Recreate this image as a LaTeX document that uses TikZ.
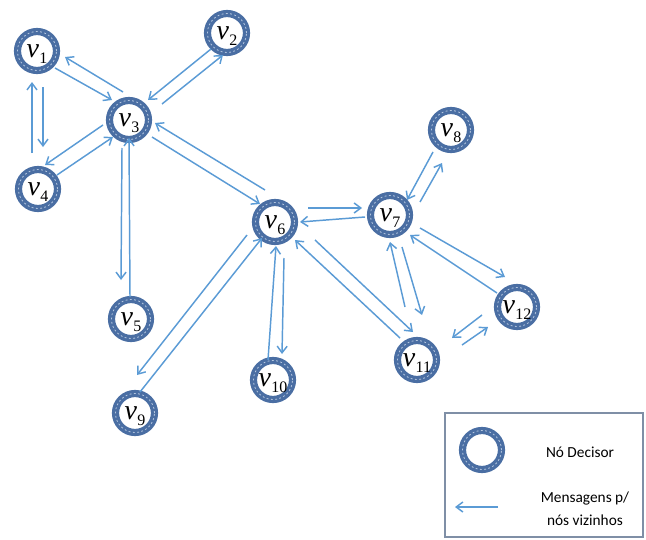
\documentclass[tikz,border=0pt]{standalone}
\usepackage{fontspec}
\setmainfont{Liberation Serif}
\newfontfamily\legendfont{Carlito}
\usetikzlibrary{arrows.meta,calc}

\definecolor{ringblue}{HTML}{4A6EA3}
\definecolor{ringlight}{HTML}{B4C6DF}
\definecolor{msgblue}{HTML}{5B9BD5}
\definecolor{boxline}{HTML}{7F8FA6}

% italic v with a lowered index (the index does not enlarge the label box)
\newcommand\vlab[1]{{\itshape v}\kern0.2pt\raisebox{-5pt}[0pt][0pt]{\fontsize{12}{12}\selectfont #1}}
% one message arrow between two nodes, each end given relative to its node
\newcommand\msg[4]{\draw[msgarrow] ($(#1)+#2$) -- ($(#3)+#4$);}

\begin{document}
\begin{tikzpicture}[x=0.75pt,y=-0.75pt,
  decisor/.style={circle, minimum size=29.25pt, inner sep=0pt,
    draw=ringblue, line width=5.4pt,
    font=\fontsize{21}{21}\selectfont,
    postaction={draw=ringlight, line width=0.6pt, dash pattern=on 1.4pt off 1.8pt}},
  msgarrow/.style={draw=msgblue, line width=1.1pt,
    -{Straight Barb[length=5pt,width=7.5pt,line width=1.1pt]}},
  legendtext/.style={font=\legendfont\fontsize{11.5}{17.5}\selectfont, align=center}]
\useasboundingbox (0,0) rectangle (646,539);

% decision nodes
\node[decisor] (v1)  at (37,51)   {\vlab{1}};
\node[decisor] (v2)  at (227,33)  {\vlab{2}};
\node[decisor] (v3)  at (129,120) {\vlab{3}};
\node[decisor] (v4)  at (38,189)  {\vlab{4}};
\node[decisor] (v5)  at (131,319) {\vlab{5}};
\node[decisor] (v6)  at (275,222) {\vlab{6}};
\node[decisor] (v7)  at (390,215) {\vlab{7}};
\node[decisor] (v8)  at (451,130) {\vlab{8}};
\node[decisor] (v9)  at (135,413) {\vlab{9}};
\node[decisor] (v10) at (273,380) {\vlab{10}};
\node[decisor] (v11) at (417,360) {\vlab{11}};
\node[decisor] (v12) at (517,307) {\vlab{12}};

% messages exchanged between neighbours
\msg{v3}{(-6,-28)}{v1}{(28,6)}
\msg{v1}{(18,17)}{v3}{(-17,-20)}
\msg{v2}{(-16,16)}{v3}{(19,-20)}
\msg{v3}{(33,-16)}{v2}{(-4,22)}
\msg{v4}{(-6,-36)}{v1}{(-5,31)}
\msg{v1}{(6,36)}{v4}{(5,-42)}
\msg{v3}{(-26,5)}{v4}{(7,-24)}
\msg{v4}{(19,-14)}{v3}{(-16,17)}
\msg{v3}{(-7,28)}{v5}{(-10,-39)}
\msg{v5}{(-1,-22)}{v3}{(0,18)}
\msg{v6}{(-10,-32)}{v3}{(26,3)}
\msg{v3}{(23,17)}{v6}{(-15,-18)}
\msg{v6}{(33,-14)}{v7}{(-28,-7)}
\msg{v7}{(-25,2)}{v6}{(25,0)}
\msg{v8}{(-18,22)}{v7}{(17,-15)}
\msg{v7}{(30,-13)}{v8}{(-9,33)}
\msg{v7}{(30,13)}{v12}{(-12,-30)}
\msg{v12}{(-20,-14)}{v7}{(20,20)}
\msg{v11}{(-12,-53)}{v7}{(0,27)}
\msg{v7}{(12,32)}{v11}{(5,-45)}
\msg{v12}{(-35,8)}{v11}{(35,-22)}
\msg{v11}{(45,-15)}{v12}{(-29,20)}
\msg{v11}{(-17,-22)}{v6}{(20,18)}
\msg{v6}{(40,18)}{v11}{(-4,-28)}
\msg{v10}{(-5,-20)}{v6}{(1,24)}
\msg{v6}{(9,36)}{v10}{(9,-26)}
\msg{v6}{(-28,13)}{v9}{(2,-38)}
\msg{v9}{(5,-21)}{v6}{(-13,16)}

% legend
\node[draw=boxline, line width=0.9pt, minimum width=148.5pt, minimum height=93pt,
  inner sep=0pt] (legend) at (544,475) {};
\node[decisor] (legdec) at (482,450) {};
\node[legendtext] (legdectext) at (580,452) {Nó Decisor};
\coordinate (legtail) at (498,507);
\coordinate (leghead) at (455,507);
\draw[msgarrow] (legtail) -- (leghead);
\node[legendtext] (legmsgtext) at (585,509) {Mensagens p/\\nós vizinhos};
\end{tikzpicture}
\end{document}
